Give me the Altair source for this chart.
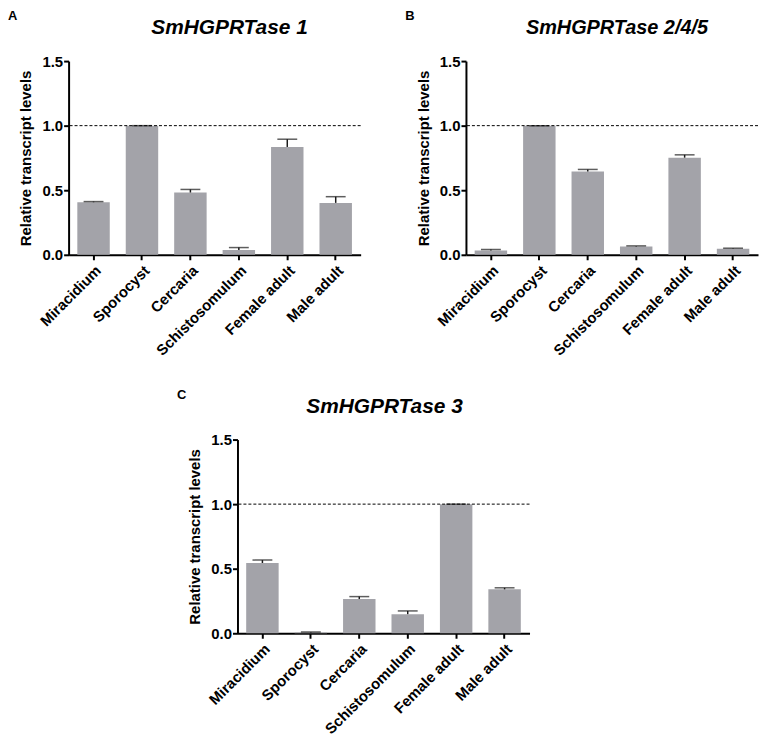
import altair as alt
import pandas as pd

stages = ["Miracidium", "Sporocyst", "Cercaria", "Schistosomulum", "Female adult", "Male adult"]

a_mean = [0.407, 1.0, 0.482, 0.038, 0.835, 0.402]
a_upper = [0.412, 1.0, 0.506, 0.056, 0.895, 0.45]

b_mean = [0.033, 1.0, 0.645, 0.064, 0.752, 0.046]
b_upper = [0.041, 1.0, 0.661, 0.069, 0.774, 0.051]

c_mean = [0.544, 0.006, 0.265, 0.148, 1.0, 0.34]
c_upper = [0.567, 0.01, 0.284, 0.173, 1.0, 0.352]

reference_level = [1.0]
y_ticks = [0.0, 0.5, 1.0, 1.5]

W, H = 294, 195
BAR = "#a3a3a9"
FONT = "Liberation Sans"
YT = "Relative transcript levels"


def panel(letter, title, means, uppers, title_x, title_size):
    df = pd.DataFrame({"stage": stages, "mean": means, "upper": uppers})
    base = alt.Chart(df)
    x = alt.X("stage:N", sort=stages,
              scale=alt.Scale(paddingInner=0.33, paddingOuter=0.18),
              axis=alt.Axis(title=None, labelAngle=-45))
    yscale = alt.Scale(domain=[0, 1.5])
    yaxis = alt.Axis(values=y_ticks, format=".1f")
    bars = base.mark_bar(color=BAR).encode(
        x=x, y=alt.Y("mean:Q", scale=yscale, axis=yaxis, title=YT))
    err = base.mark_rule(color="#1a1a1a", strokeWidth=1.5).encode(
        x=x, y=alt.Y("mean:Q", scale=yscale, axis=yaxis, title=YT), y2="upper:Q")
    cap = base.mark_tick(color="#1a1a1a", orient="horizontal", size=20, thickness=1.5).encode(
        x=x, y=alt.Y("upper:Q", scale=yscale, axis=yaxis, title=YT))
    ref = alt.Chart(pd.DataFrame({"level": reference_level})).mark_rule(
        color="black", strokeWidth=1, strokeDash=[3, 2]).encode(
        y=alt.Y("level:Q", scale=yscale, axis=yaxis, title=YT))
    lt = alt.Chart(pd.DataFrame({"t": [letter]})).mark_text(
        align="left", baseline="alphabetic", fontSize=13, fontWeight="bold",
        font=FONT, color="black", x=-61, y=-41).encode(text="t:N")
    tt = alt.Chart(pd.DataFrame({"t": [title]})).mark_text(
        align="center", baseline="alphabetic", fontSize=title_size, fontWeight="bold",
        fontStyle="italic", font=FONT, color="black", x=title_x, y=-27).encode(text="t:N")
    return alt.layer(bars, err, cap, ref, lt, tt).properties(width=W, height=H)


pa = panel("A", "SmHGPRTase 1", a_mean, a_upper, 162, 21)
pb = panel("B", "SmHGPRTase 2/4/5", b_mean, b_upper, 152, 20)
pc = panel("C", "SmHGPRTase 3", c_mean, c_upper, 148, 21)

spacer = alt.Chart(pd.DataFrame({"v": [0]})).mark_point(opacity=0).encode(
    x=alt.value(0), y=alt.value(0)).properties(width=109, height=10)

top = alt.hconcat(pa, pb, spacing=44)
bottom = alt.hconcat(spacer, pc, spacing=0)

chart = alt.vconcat(top, bottom, spacing=30).properties(padding=0).configure_axis(
    domainColor="black", domainWidth=2, tickColor="black", tickWidth=2, tickSize=5,
    labelColor="black", labelFont=FONT, labelFontSize=15, labelFontWeight="bold",
    titleColor="black", titleFont=FONT, titleFontSize=15, titleFontWeight="bold",
    grid=False
).configure_axisY(labelPadding=1, titlePadding=8).configure_axisX(labelPadding=3).configure_view(stroke=None)

chart.save("out.html", embed_options={"renderer": "svg", "actions": False})
